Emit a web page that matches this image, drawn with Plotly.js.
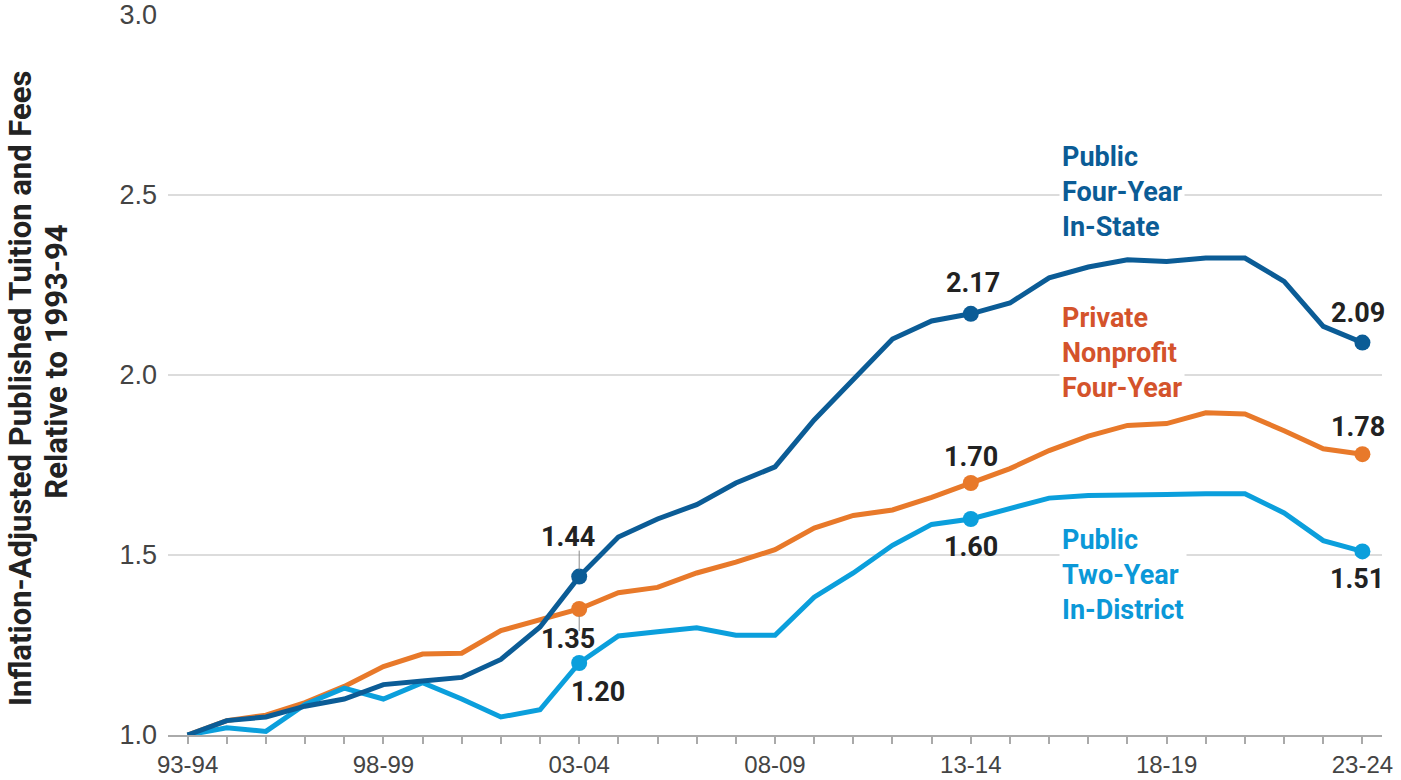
<!DOCTYPE html>
<html>
<head>
<meta charset="utf-8">
<script src="https://cdn.plot.ly/plotly-3.0.1.min.js"></script>
<style>html,body{margin:0;padding:0;background:#fff;}#chart{width:1401px;height:780px;}</style>
</head>
<body>
<div id="chart"></div>
<script>
// ---- data ----
const years = ["93-94","94-95","95-96","96-97","97-98","98-99","99-00","00-01","01-02","02-03",
  "03-04","04-05","05-06","06-07","07-08","08-09","09-10","10-11","11-12","12-13",
  "13-14","14-15","15-16","16-17","17-18","18-19","19-20","20-21","21-22","22-23","23-24"];
const tickLabels = ["93-94","98-99","03-04","08-09","13-14","18-19","23-24"];
const publicFourYear = [1.00,1.04,1.05,1.08,1.10,1.14,1.15,1.16,1.21,1.30,
  1.44,1.55,1.60,1.64,1.70,1.745,1.875,1.99,2.10,2.15,
  2.17,2.20,2.27,2.30,2.32,2.315,2.325,2.325,2.26,2.135,2.09];
const privateNonprofit = [1.00,1.04,1.055,1.09,1.135,1.19,1.225,1.227,1.29,1.32,
  1.35,1.395,1.41,1.45,1.48,1.515,1.575,1.61,1.625,1.66,
  1.70,1.74,1.79,1.83,1.86,1.865,1.895,1.892,1.845,1.795,1.78];
const publicTwoYear = [1.00,1.02,1.01,1.085,1.13,1.10,1.145,1.10,1.05,1.07,
  1.20,1.275,1.287,1.298,1.277,1.277,1.383,1.45,1.527,1.585,
  1.60,1.63,1.658,1.665,1.668,1.668,1.67,1.67,1.617,1.54,1.51];
const seriesNames = ["Public<br>Four-Year<br>In-State","Private<br>Nonprofit<br>Four-Year","Public<br>Two-Year<br>In-District"];
const yTitleLines = ["Inflation-Adjusted Published Tuition and Fees","Relative to 1993-94"];
const highlightIdx = [10,20,30];

// ---- styles ----
const C_DARK = "#0b5c96", C_ORANGE = "#e8792a", C_CYAN = "#0b9fdc";
const C_ORANGE_TXT = "#d4532b", C_CYAN_TXT = "#0b98d8";
const LABEL_FONT = "Roboto, 'Liberation Sans', sans-serif";
const TICK_FONT = "'Liberation Sans', Arial, sans-serif";

function trace(y, color){
  return {
    x: years, y: y, type: "scatter", mode: "lines+markers",
    line: {color: color, width: 5},
    marker: {color: color, opacity: 1, line: {width: 0},
             size: y.map((v,i)=> highlightIdx.includes(i) ? 16 : 0)},
    cliponaxis: false, hoverinfo: "skip", showlegend: false
  };
}
const data = [trace(privateNonprofit, C_ORANGE), trace(publicTwoYear, C_CYAN), trace(publicFourYear, C_DARK)];

function val(series, i, dx, dy){
  return {x: years[i], y: series[i], xref: "x", yref: "y", text: series[i].toFixed(2),
    showarrow: false, xshift: dx, yshift: dy,
    font: {family: LABEL_FONT, size: 27, color: "#222", weight: 700}};
}
function seriesLabel(text, i, yv, color){
  return {x: years[i], y: yv, xref: "x", yref: "y", text: text, showarrow: false,
    xanchor: "left", yanchor: "middle", align: "left", xshift: 10, bgcolor: "#fff", borderpad: 2,
    font: {family: LABEL_FONT, size: 27, color: color, weight: 700}};
}
function yTitle(text, px, py){
  return {xref: "paper", yref: "paper", x: px, y: py, xanchor: "center", yanchor: "middle",
    textangle: -90, showarrow: false, text: text,
    font: {family: LABEL_FONT, size: 31, color: "#222", weight: 700}};
}

const annotations = [
  val(publicFourYear, 10, -11, 40),
  val(privateNonprofit, 10, -11, -30),
  val(publicTwoYear, 10, 19, -29),
  val(publicFourYear, 20, 2, 31),
  val(privateNonprofit, 20, 0, 26),
  val(publicTwoYear, 20, 0, -28),
  val(publicFourYear, 30, -4, 30),
  val(privateNonprofit, 30, -4, 27),
  val(publicTwoYear, 30, -5, -28),
  seriesLabel(seriesNames[0], 22, 2.508, C_DARK),
  seriesLabel(seriesNames[1], 22, 2.061, C_ORANGE_TXT),
  seriesLabel(seriesNames[2], 22, 1.444, C_CYAN_TXT),
  yTitle(yTitleLines[0], -0.121, 0.482),
  yTitle(yTitleLines[1], -0.092, 0.519)
];

const shapes = [
  {type: "line", xref: "x", yref: "y", x0: years[10], x1: years[10], ysizemode: "pixel",
   yanchor: publicFourYear[10], y0: 7, y1: 26, line: {color: "#888", width: 1}},
  {type: "line", xref: "x", yref: "y", x0: years[10], x1: years[10], ysizemode: "pixel",
   yanchor: privateNonprofit[10], y0: -7, y1: -22, line: {color: "#888", width: 1}}
];

const layout = {
  width: 1401, height: 780,
  margin: {l: 168, r: 19, t: 15, b: 45},
  paper_bgcolor: "#fff", plot_bgcolor: "#fff",
  xaxis: {
    type: "category", range: [-0.5, years.length - 0.5],
    tickvals: years, ticktext: years.map(y => tickLabels.includes(y) ? y : ""),
    ticks: "outside", ticklen: 7, tickwidth: 2, tickcolor: "#aaa",
    showline: true, linecolor: "#aaa", linewidth: 2,
    showgrid: false, zeroline: false, ticklabelstandoff: 0,
    tickfont: {family: TICK_FONT, size: 24, color: "#444"}
  },
  yaxis: {
    range: [1, 3], tickvals: [1.0, 1.5, 2.0, 2.5, 3.0], ticktext: ["1.0","1.5","2.0","2.5","3.0"],
    showgrid: true, gridcolor: "#dcdcdc", gridwidth: 2, zeroline: false,
    ticks: "", ticklabelstandoff: 10,
    tickfont: {family: TICK_FONT, size: 27, color: "#444"}
  },
  annotations: annotations,
  shapes: shapes
};

Plotly.newPlot("chart", data, layout, {staticPlot: true, displayModeBar: false});
</script>
</body>
</html>
